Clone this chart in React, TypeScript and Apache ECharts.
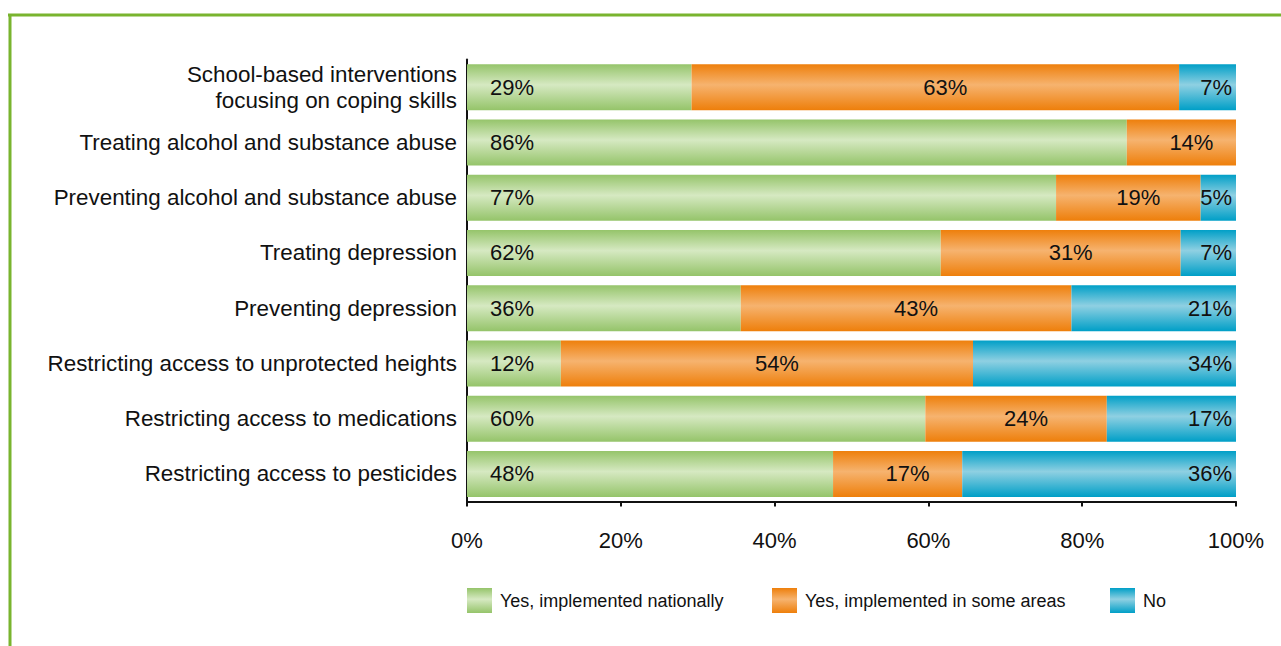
import React, { useEffect, useRef } from "react";
import * as echarts from "echarts";

const categories = [
  "School-based interventions\nfocusing on coping skills",
  "Treating alcohol and substance abuse",
  "Preventing alcohol and substance abuse",
  "Treating depression",
  "Preventing depression",
  "Restricting access to unprotected heights",
  "Restricting access to medications",
  "Restricting access to pesticides",
];
const nationally = [29.2, 85.8, 76.6, 61.6, 35.6, 12.2, 59.6, 47.6];
const someAreas = [63.4, 14.2, 18.8, 31.2, 43.0, 53.6, 23.6, 16.8];
const noImpl = [7.4, 0, 4.6, 7.2, 21.4, 34.2, 16.8, 35.6];
const seriesNames = ["Yes, implemented nationally", "Yes, implemented in some areas", "No"];
const xTicks = [0, 20, 40, 60, 80, 100];

const FONT = "'Liberation Sans', Arial, sans-serif";

function grad(edge: string, mid: string) {
  return new echarts.graphic.LinearGradient(0, 0, 0, 1, [
    { offset: 0, color: edge },
    { offset: 0.45, color: mid },
    { offset: 1, color: edge },
  ]);
}

export default function App() {
  const ref = useRef<HTMLDivElement>(null);
  useEffect(() => {
    if (!ref.current) return;
    const chart = echarts.init(ref.current, undefined, { renderer: "svg" });
    const fmt = (p: any) => (p.value > 0 ? Math.round(p.value) + "%" : "");
    const labelBase = { show: true, color: "#111", fontFamily: FONT, fontSize: 22, formatter: fmt };
    chart.setOption({
      animation: false,
      backgroundColor: "#fff",
      textStyle: { fontFamily: FONT },
      grid: { left: 467, right: 45, top: 59.5, bottom: 144.5, containLabel: false },
      legend: [
        { data: [seriesNames[0]], left: 467, top: 588 },
        { data: [seriesNames[1]], left: 772, top: 588 },
        { data: [seriesNames[2]], left: 1110, top: 588 },
      ].map((l) => ({
        ...l,
        padding: 0,
        itemWidth: 25,
        itemHeight: 25,
        itemGap: 8,
        icon: "rect",
        textStyle: { fontFamily: FONT, fontSize: 18, color: "#111", padding: [0, 0, 0, 3] },
      })),
      xAxis: {
        type: "value",
        min: 0,
        max: 100,
        interval: 20,
        axisLine: { show: true, lineStyle: { color: "#111", width: 2 } },
        axisTick: { show: true, length: 5, lineStyle: { color: "#111", width: 2 } },
        splitLine: { show: false },
        axisLabel: {
          formatter: (v: number) => (xTicks.includes(v) ? v + "%" : ""),
          color: "#111",
          fontFamily: FONT,
          fontSize: 22,
          margin: 28,
        },
      },
      yAxis: {
        type: "category",
        inverse: true,
        data: categories,
        axisLine: { show: true, lineStyle: { color: "#111", width: 2 } },
        axisTick: { show: false },
        axisLabel: {
          color: "#111",
          fontFamily: FONT,
          fontSize: 22.4,
          lineHeight: 26,
          margin: 10,
          align: "right",
        },
      },
      series: [
        {
          name: seriesNames[0],
          type: "bar",
          stack: "t",
          barWidth: 46,
          data: nationally,
          itemStyle: { color: grad("#95c46a", "#d6e9c2") },
          label: { ...labelBase, position: "insideLeft", distance: 23 },
        },
        {
          name: seriesNames[1],
          type: "bar",
          stack: "t",
          barWidth: 46,
          data: someAreas,
          itemStyle: { color: grad("#ee7f0b", "#f6b36f") },
          label: { ...labelBase, position: "inside", offset: [10, 0] },
        },
        {
          name: seriesNames[2],
          type: "bar",
          stack: "t",
          barWidth: 46,
          data: noImpl,
          itemStyle: { color: grad("#009fc7", "#8fd0e2") },
          label: { ...labelBase, position: "insideRight", distance: 4 },
        },
      ],
      graphic: [
        {
          type: "line",
          shape: { x1: 8, y1: 15, x2: 1281, y2: 15 },
          style: { stroke: "#79b42e", lineWidth: 3 },
        },
        {
          type: "line",
          shape: { x1: 10, y1: 14, x2: 10, y2: 646 },
          style: { stroke: "#79b42e", lineWidth: 3 },
        },
      ],
    });
    return () => chart.dispose();
  }, []);
  return (
    <div
      ref={ref}
      style={{ position: "absolute", left: 0, top: 0, width: 1281, height: 646 }}
    />
  );
}
